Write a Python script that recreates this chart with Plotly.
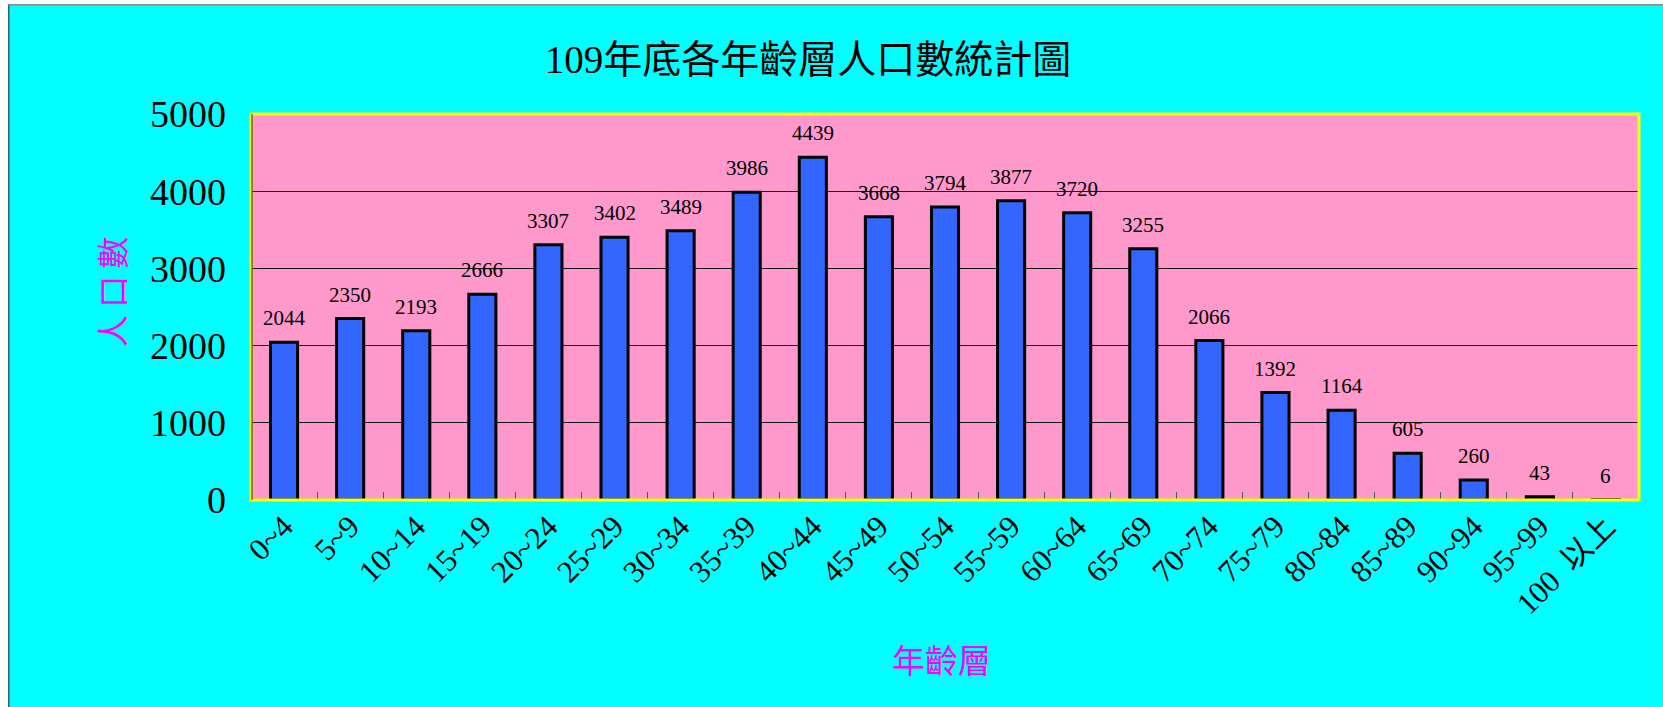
import plotly.graph_objects as go

categories = ["0~4", "5~9", "10~14", "15~19", "20~24", "25~29", "30~34", "35~39",
              "40~44", "45~49", "50~54", "55~59", "60~64", "65~69", "70~74", "75~79",
              "80~84", "85~89", "90~94", "95~99", "100\u00a0\u00a0以上"]
population = [2044, 2350, 2193, 2666, 3307, 3402, 3489, 3986, 4439, 3668, 3794,
              3877, 3720, 3255, 2066, 1392, 1164, 605, 260, 43, 6]
y_ticks = [0, 1000, 2000, 3000, 4000, 5000]

# page offset of the figure (body margin set below)
OX, OY = 8, 4
W, H = 1663 - OX, 707 - OY
L, R, T, B = 251 - OX, 1639 - OX, 114 - OY, 500 - OY
PW, PH = R - L, B - T

def px_x(p):
    return (p - OX - L) / PW

def px_y(p):
    return (B - (p - OY)) / PH

SERIF = "Liberation Serif, Times New Roman, Noto Sans CJK TC, serif"
CJK = "Noto Sans CJK TC, Liberation Serif, serif"

fig = go.Figure()
fig.add_trace(go.Bar(
    x=categories, y=population,
    marker=dict(color="#3366FF", line=dict(color="black", width=3)),
    hoverinfo="x+y",
))

annotations = []
for c, v in zip(categories, population):
    annotations.append(dict(x=c, y=v, xref="x", yref="y", text=str(v), showarrow=False,
                            yanchor="bottom", yshift=10,
                            font=dict(family=SERIF, size=21, color="black")))

annotations.append(dict(x=px_x(941), y=px_y(659), xref="paper", yref="paper",
                        text="年齡層", showarrow=False, xanchor="center", yanchor="middle",
                        font=dict(family=CJK, size=33, color="#FF00FF")))
annotations.append(dict(x=px_x(111), y=px_y(292), xref="paper", yref="paper",
                        text="人 口 數", showarrow=False, textangle=-90,
                        xanchor="center", yanchor="middle",
                        font=dict(family=CJK, size=32, color="#FF00FF")))

shapes = [
    # plot border (yellow)
    dict(type="rect", xref="paper", yref="paper", x0=0, x1=1, y0=0, y1=1,
         line=dict(color="#FFFF00", width=3), layer="above"),
    # left axis dark line
    dict(type="line", xref="paper", yref="paper", x0=px_x(252), x1=px_x(252), y0=0, y1=1,
         line=dict(color="#222222", width=1), layer="above"),
    # outer chart border (left / top)
    dict(type="line", xref="paper", yref="paper", x0=px_x(8.75), x1=px_x(8.75), y0=px_y(4), y1=px_y(707),
         line=dict(color="#2F5F5F", width=1.5), layer="above"),
    dict(type="line", xref="paper", yref="paper", x0=px_x(8), x1=px_x(1663), y0=px_y(4.75), y1=px_y(4.75),
         line=dict(color="#8A8A8A", width=1.5), layer="above"),
]

fig.update_layout(
    width=W, height=H,
    margin=dict(l=L, r=W - R, t=T, b=H - B, autoexpand=False),
    paper_bgcolor="#00FFFF",
    plot_bgcolor="#FF99CC",
    bargap=0.59,
    showlegend=False,
    title=dict(text="109年底各年齡層人口數統計圖", xref="container", yref="container",
               x=(808 - OX) / W, y=1 - (59 - OY) / H, xanchor="center", yanchor="middle",
               font=dict(family=SERIF, size=39, color="black")),
    xaxis=dict(
        type="category", tickangle=-45, tickson="boundaries", ticks="inside",
        ticklen=8, tickcolor="#555555", tickwidth=1,
        tickfont=dict(family=SERIF, size=31, color="black"),
        ticklabelstandoff=1,
        showgrid=False, showline=False, zeroline=False, automargin=False,
    ),
    yaxis=dict(
        range=[0, 5000], tickvals=y_ticks, ticks="inside", ticklen=9, tickcolor="#222222",
        tickfont=dict(family=SERIF, size=38, color="black"),
        ticklabelstandoff=24,
        showgrid=True, gridcolor="#111111", gridwidth=1,
        showline=False, zeroline=False, automargin=False,
    ),
    annotations=annotations,
    shapes=shapes,
)

fig.write_html(
    "out.html",
    post_script="document.body.style.margin='4px 0 0 8px';document.body.style.overflow='hidden';",
)
